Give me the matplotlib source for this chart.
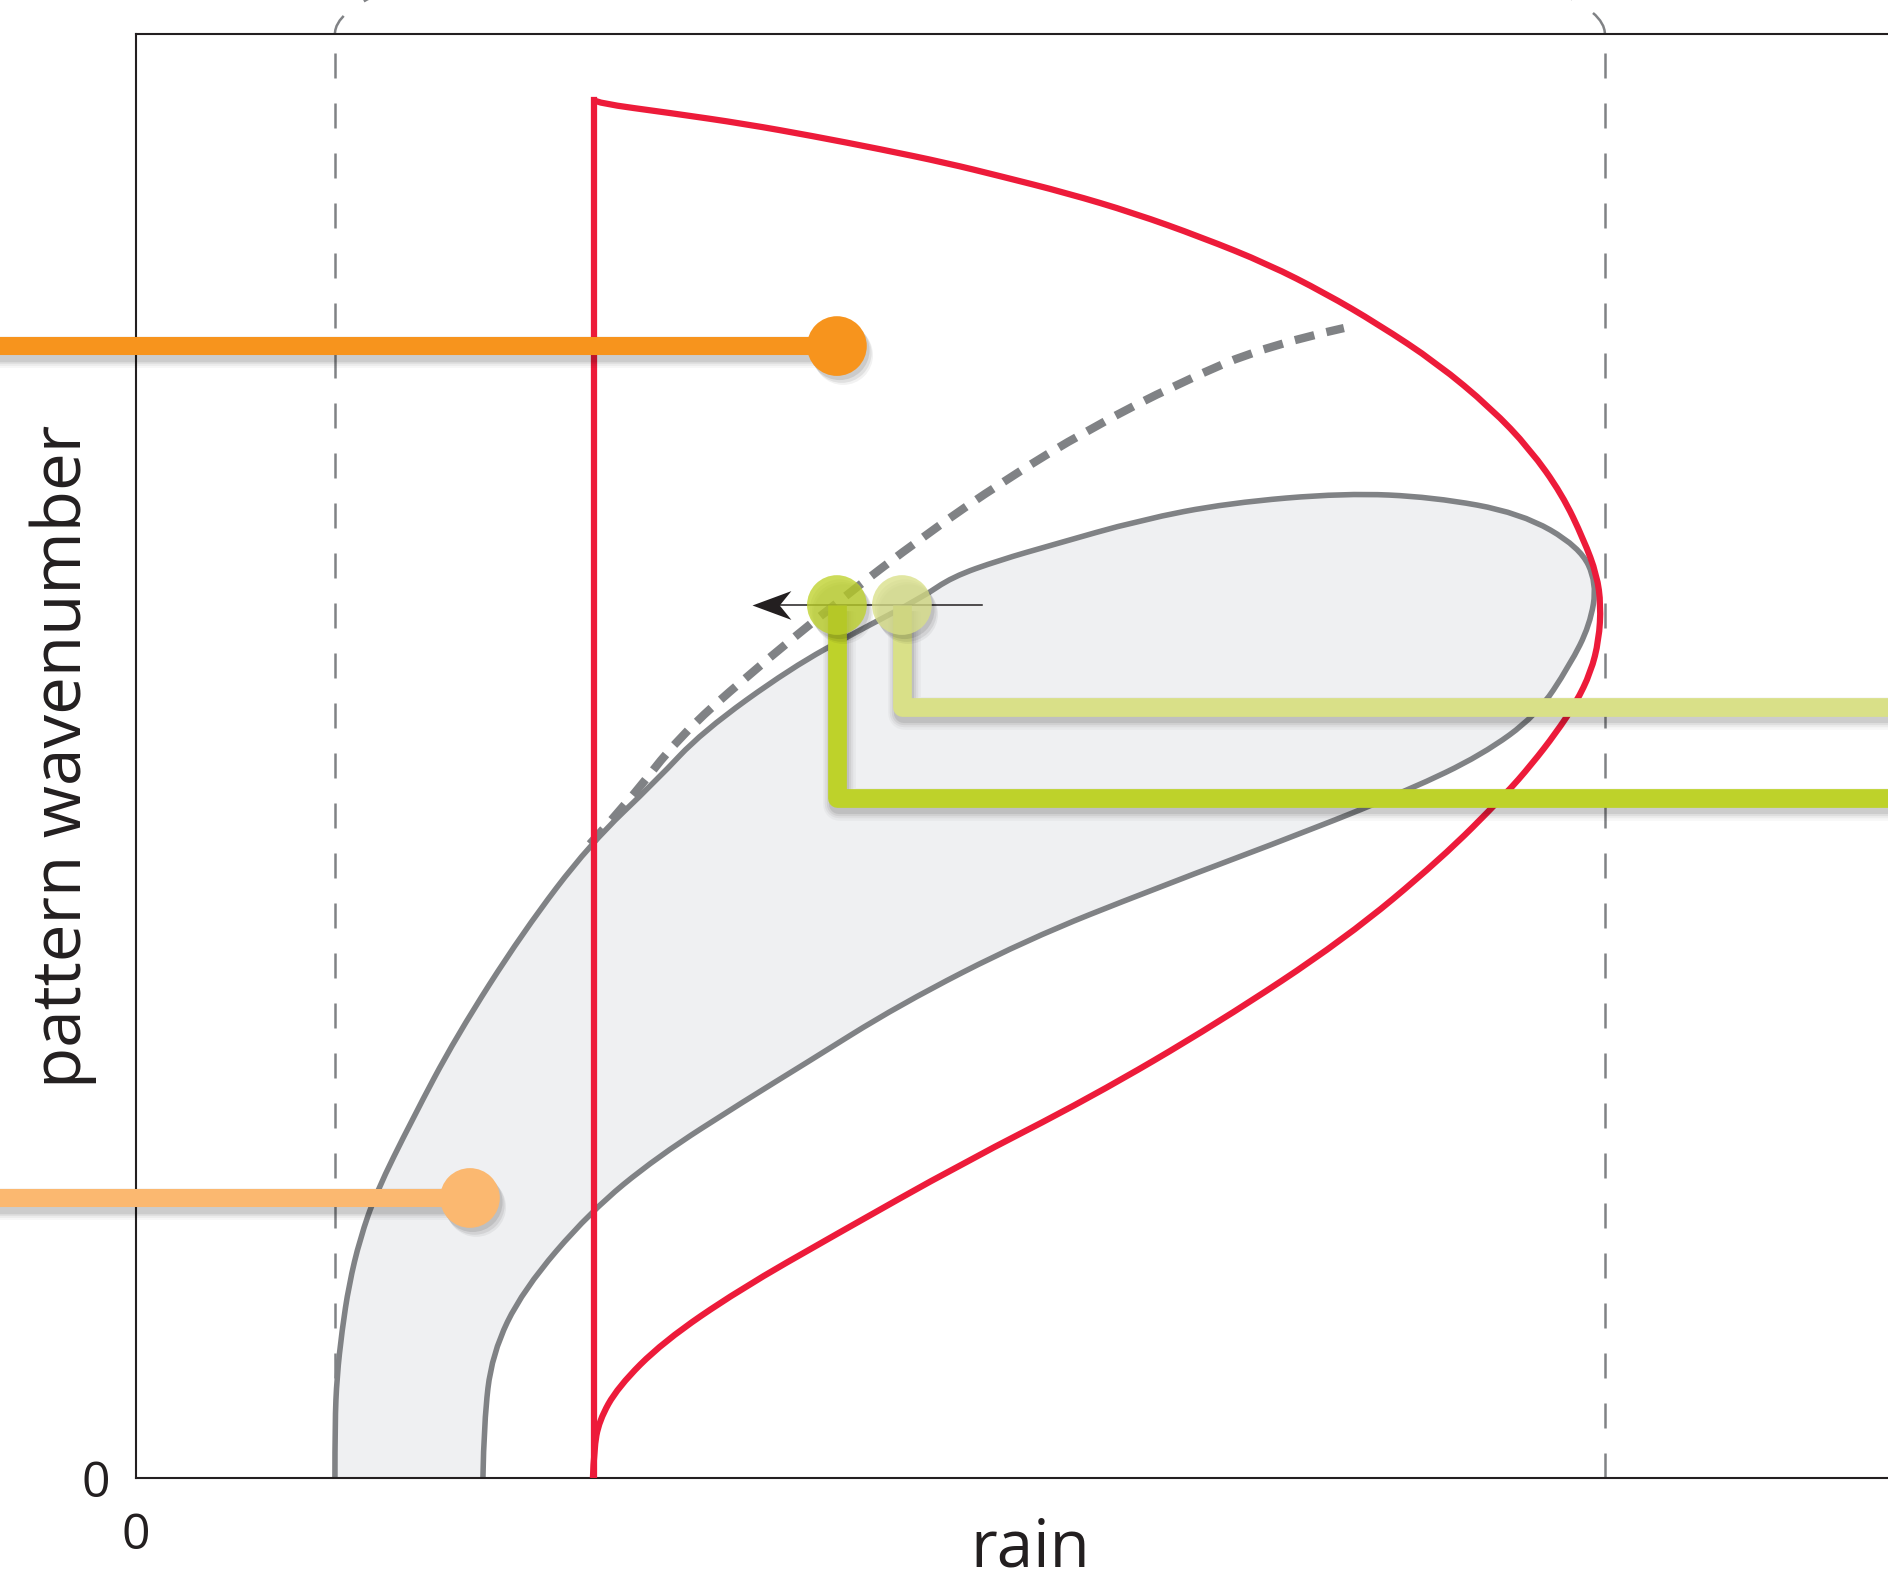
import matplotlib
matplotlib.use("Agg")
import matplotlib.pyplot as plt
import matplotlib.patheffects as pe
from matplotlib.patches import Arc, PathPatch
from matplotlib.path import Path

plt.rcParams['font.family'] = ['Open Sans', 'DejaVu Sans']

# Turing instability boundary (rain vs. pattern wavenumber)
red_left = 4.58
red_top = 13.78
red_rain = [4.58, 4.61, 5.35, 6.10, 6.77, 7.44, 8.11, 8.64, 9.31, 9.98,
            10.65, 11.32, 11.89, 12.42, 13.01, 13.55, 13.94, 14.26, 14.48,
            14.61, 14.65, 14.63, 14.55, 14.40, 14.20, 13.96, 13.69, 13.05,
            12.09, 10.82, 9.54, 8.27, 6.99, 6.03, 5.27, 4.82, 4.63, 4.58, 4.57]
red_k = [13.78, 13.75, 13.65, 13.54, 13.42, 13.29, 13.15, 13.02, 12.85,
         12.65, 12.41, 12.14, 11.85, 11.54, 11.15, 10.70, 10.29, 9.84, 9.38,
         9.03, 8.73, 8.38, 8.06, 7.75, 7.45, 7.14, 6.83, 6.19, 5.39, 4.55,
         3.80, 3.15, 2.43, 1.88, 1.36, 0.91, 0.57, 0.28, 0.00]

# Busse balloon: region of stable patterns
band_rain = [1.99, 1.99, 2.01, 2.06, 2.13, 2.24, 2.40, 2.76, 3.20, 3.87, 4.54,
             5.21, 5.66, 6.55, 7.22, 7.87, 8.16, 8.64, 9.16, 10.04, 10.92,
             12.09, 12.97, 13.85, 14.44, 14.61, 14.54, 14.34, 14.01, 13.46,
             12.73, 11.77, 10.18, 8.90, 7.63, 6.67, 6.10, 5.21, 4.54, 3.87,
             3.56, 3.48, 3.47]
band_k = [0.00, 0.55, 1.01, 1.47, 1.93, 2.39, 2.85, 3.58, 4.41, 5.46, 6.34,
          6.98, 7.46, 8.10, 8.47, 8.81, 9.01, 9.18, 9.33, 9.58, 9.75, 9.85,
          9.81, 9.65, 9.31, 8.95, 8.53, 8.13, 7.63, 7.23, 6.88, 6.49, 5.89,
          5.38, 4.73, 4.13, 3.78, 3.21, 2.66, 1.88, 1.24, 0.55, 0.00]

# continuation of the stability boundary
edge_rain = [4.54, 4.94, 5.43, 6.10, 7.00, 7.89, 8.69, 9.53, 10.43, 11.32, 12.08]
edge_k = [6.34, 6.78, 7.41, 8.01, 8.75, 9.43, 9.98, 10.49, 10.95, 11.33, 11.50]

# rain thresholds (dashed verticals)
rain_thresholds = [1.99, 14.69]

# pattern states
orange_state = (7.01, 11.32)
light_orange_state = (3.34, 2.80)
green_rain = [7.01, 7.66]
green_k = 8.73
green_drop = [6.80, 7.71]
arrow_from, arrow_to = 8.46, 6.16

RED = '#ed1b3a'
GREY = '#808285'
FILL = '#eff0f2'
INK = '#231f20'
ORANGE = '#f7941d'
LIGHT_ORANGE = '#fbb870'
GREEN = '#bed22a'
LIGHT_GREEN = '#d9e088'


def smooth(xs, ys):
    """Quadratic bezier path using the given points as control points."""
    pts = list(zip(xs, ys))
    verts, codes = [pts[0]], [Path.MOVETO]
    for i in range(1, len(pts) - 1):
        nxt = pts[i + 1] if i == len(pts) - 2 else (
            (pts[i][0] + pts[i + 1][0]) / 2, (pts[i][1] + pts[i + 1][1]) / 2)
        verts += [pts[i], nxt]
        codes += [Path.CURVE3, Path.CURVE3]
    return Path(verts, codes)


def line_shadow(lw):
    fx = []
    for extra, a in [(10, 0.03), (7, 0.045), (4, 0.06), (1, 0.08)]:
        fx.append(pe.SimpleLineShadow(offset=(1.5, -4.5), shadow_color='k',
                                      alpha=a, linewidth=lw + extra))
    fx.append(pe.Normal())
    return fx


def dot_shadow():
    fx = []
    for off, a in [((4.5, -6.5), 0.05), ((3.5, -5), 0.07), ((2, -3), 0.09)]:
        fx.append(pe.SimplePatchShadow(offset=off, shadow_rgbFace='k', alpha=a))
    fx.append(pe.Normal())
    return fx


fig = plt.figure(figsize=(18.88, 15.78), dpi=100)
ax = fig.add_axes([0.072, 0.0634, 0.947, 0.915])
ax.set_xlim(0, 17.88)
ax.set_ylim(0, 14.44)

# grey balloon
band = smooth(band_rain, band_k)
ax.add_patch(PathPatch(band, facecolor=FILL, edgecolor='none', zorder=1))
ax.add_patch(PathPatch(band, facecolor='none', edgecolor=GREY, lw=4,
                       capstyle='butt', zorder=2))
ax.add_patch(PathPatch(smooth(edge_rain, edge_k), facecolor='none',
                       edgecolor=GREY, lw=6, linestyle=(0, (2.4, 1.5)),
                       capstyle='butt', zorder=2))

# thresholds with arcs bending over the top
for x in rain_thresholds:
    ax.axvline(x, color=GREY, lw=1.8, linestyle=(0, (10, 10)), zorder=1.5)
mid = sum(rain_thresholds) / 2
span = rain_thresholds[1] - rain_thresholds[0]
ax.add_patch(Arc((mid, 14.44), span, 2.2, theta1=0, theta2=180, color=GREY,
                 lw=1.8, linestyle=(0, (10, 10)), clip_on=False))

# instability boundary
ax.plot([red_left, red_left], [0, red_top], color=RED, lw=4.5, zorder=3)
ax.add_patch(PathPatch(smooth(red_rain, red_k), facecolor='none',
                       edgecolor=RED, lw=4.5, zorder=3))

# arrow showing decreasing rain
stealth = Path([(0, 0), (1, 0.37), (0.7, 0), (1, -0.37), (0, 0)],
               [Path.MOVETO, Path.LINETO, Path.LINETO, Path.LINETO,
                Path.CLOSEPOLY])
ax.plot([arrow_from, arrow_to + 0.2], [green_k, green_k], color=INK, lw=1.1,
        zorder=4)
ax.plot(arrow_to, green_k, marker=stealth, ms=56, mfc=INK, mec='none',
        zorder=4)

# orange states
ax.plot([-1.6, orange_state[0]], [orange_state[1]] * 2, color=ORANGE, lw=13,
        solid_capstyle='butt', clip_on=False, zorder=5,
        path_effects=line_shadow(13))
ax.plot([-1.6, light_orange_state[0]], [light_orange_state[1]] * 2,
        color=LIGHT_ORANGE, lw=13, solid_capstyle='butt', clip_on=False,
        zorder=5, path_effects=line_shadow(13))

# green states
for x, drop, c in [(green_rain[1], green_drop[1], LIGHT_GREEN),
                   (green_rain[0], green_drop[0], GREEN)]:
    ax.plot([x, x, 19], [green_k, drop, drop], color=c, lw=13.5,
            solid_joinstyle='round', solid_capstyle='butt', clip_on=False,
            zorder=5, path_effects=line_shadow(13.5))

ax.plot(*orange_state, 'o', ms=43, mfc=ORANGE, mec='none', zorder=6,
        path_effects=dot_shadow())
ax.plot(*light_orange_state, 'o', ms=43, mfc=LIGHT_ORANGE, mec='none',
        zorder=6, path_effects=dot_shadow())
ax.plot(green_rain[0], green_k, 'o', ms=43, mfc=GREEN, mec='none', alpha=0.78,
        zorder=6, path_effects=dot_shadow())
ax.plot(green_rain[1], green_k, 'o', ms=43, mfc=LIGHT_GREEN, mec='none',
        alpha=0.78, zorder=6, path_effects=dot_shadow())

# axes frame and labels
ax.spines['right'].set_visible(False)
for s in ['left', 'top', 'bottom']:
    ax.spines[s].set_color(INK)
    ax.spines[s].set_linewidth(1.5)
ax.set_xticks([0])
ax.set_yticks([0])
ax.tick_params(axis='x', length=0, labelsize=36, pad=24, colors=INK)
ax.tick_params(axis='y', length=0, labelsize=36, pad=19, colors=INK)
ax.set_xlabel('rain', fontsize=47, color=INK)
ax.set_ylabel('pattern wavenumber', fontsize=48.5, color=INK)
ax.xaxis.set_label_coords(0.5, -0.027)
ax.yaxis.set_label_coords(-0.0215, 0.5)

fig.savefig('out.png', dpi=100)
